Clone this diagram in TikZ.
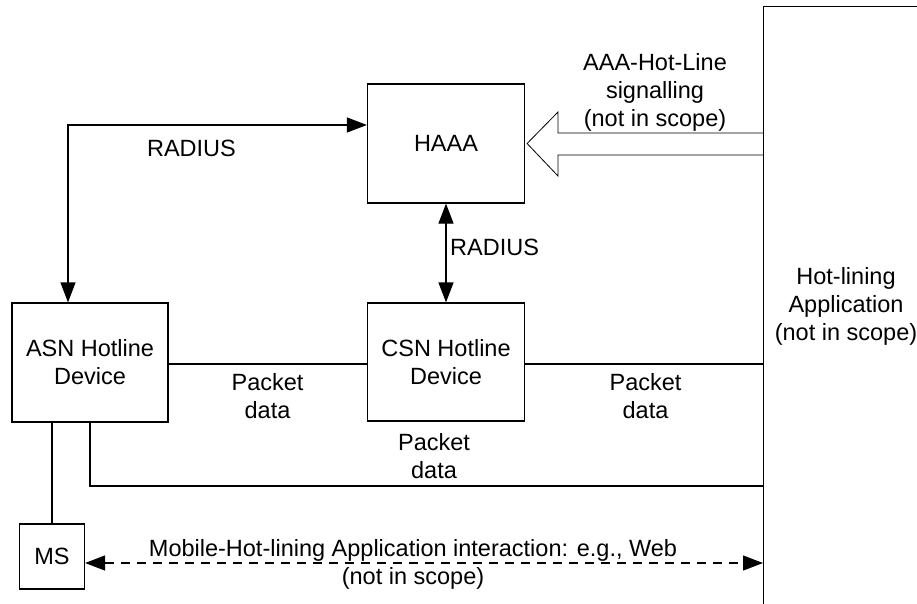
\documentclass[tikz,border=0pt]{standalone}
\usepackage{fontspec}
\setmainfont{Liberation Sans}
\usetikzlibrary{arrows.meta}
\begin{document}
\begin{tikzpicture}[x=1pt,y=-1pt,
  every node/.style={font=\fontsize{23.5}{28}\selectfont, inner sep=0pt, align=center},
  box/.style={draw, line width=1.2pt},
  ln/.style={line width=1.2pt},
  twotips/.style={ln, {Triangle[length=20pt,width=15pt]}-{Triangle[length=20pt,width=15pt]}},
  dashline/.style={dash pattern=on 9pt off 7pt}]
\fill[white] (0,0) rectangle (917,604);
\useasboundingbox (0,0) rectangle (917,604);
\clip (0,0) rectangle (917,604);

% boxes
\node[box, minimum width=240pt, minimum height=700pt, anchor=north west] (app) at (763,6) {};
\node[box, minimum width=157pt, minimum height=119pt] (haaa) at (446,143.5) {HAAA};
\node[box, minimum width=157pt, minimum height=118pt] (csn) at (446,362) {CSN Hotline\\Device};
\node[box, minimum width=156pt, minimum height=119pt] (asn) at (90,362.5) {ASN Hotline\\Device};
\node[box, minimum width=65pt, minimum height=65pt] (ms) at (52,556.5) {MS};

% labels (base anchor = baseline of last line)
\node[anchor=base] (lblaaa) at (655,127) {AAA-Hot-Line\\signalling\\(not in scope)};
\node[anchor=base] (lblapp) at (846,340) {Hot-lining\\Application\\(not in scope)};
\node[anchor=base] (lblrad1) at (191.5,157) {RADIUS};
\node[anchor=base west] (lblrad2) at (450,255) {RADIUS};
\node[anchor=base] (lblpd1) at (267.5,418) {Packet\\data};
\node[anchor=base] (lblpd2) at (645.5,418) {Packet\\data};
\node[anchor=base] (lblpd3) at (434,478) {Packet\\data};
\node[anchor=base] (lblweb) at (413,584) {Mobile-Hot-lining Application interaction: e.g., Web\\(not in scope)};

% helper coordinates
\coordinate (pd) at (0,364);
\coordinate (bot) at (0,486);
\coordinate (web) at (0,563);

% connectors
\draw[twotips] ([xshift=-22pt]asn.north) |- ([yshift=18.5pt]haaa.west);
\draw[twotips] (haaa.south) -- (csn.north);
\draw[ln] (asn.east |- pd) -- (csn.west |- pd);
\draw[ln] (csn.east |- pd) -- (app.west |- pd);
\draw[ln] (asn.south) |- (app.west |- bot);
\draw[ln] (asn.south -| ms.north) -- (ms.north);
\draw[twotips, dashline] (ms.east |- web) -- (app.west |- web);

% hollow arrow
\draw[line width=0.8pt] (app.west |- 0,133) -- (558,133) -- (558,112) -- ([xshift=2pt]haaa.east) -- (558,176) -- (558,155) -- (app.west |- 0,155);
\end{tikzpicture}
\end{document}
